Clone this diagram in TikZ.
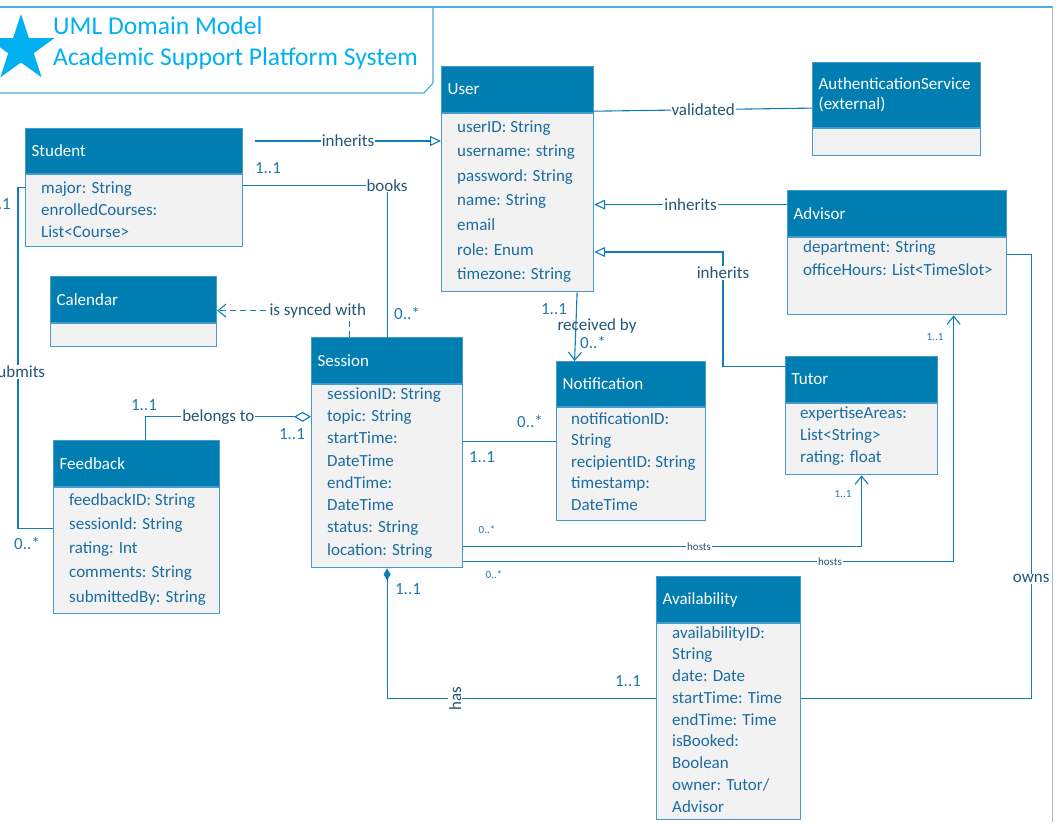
\documentclass[tikz,border=0pt]{standalone}
\usepackage{fontspec}
\setmainfont{Carlito}
\usetikzlibrary{arrows.meta,shapes.geometric}
\definecolor{titleblue}{RGB}{0,176,240}
\definecolor{framec}{RGB}{79,172,222}
\definecolor{clshead}{RGB}{0,126,178}
\definecolor{clsline}{RGB}{70,155,205}
\definecolor{bodyfill}{RGB}{242,242,242}
\definecolor{attrtext}{RGB}{27,108,160}
\definecolor{wirec}{RGB}{16,124,186}
\definecolor{lbltext}{RGB}{35,85,120}
\definecolor{multblue}{RGB}{30,120,180}
\tikzset{
  head/.style={draw=clsline, line width=1.2pt, fill=clshead, text=white, anchor=north west,
    inner xsep=6pt, inner ysep=0pt, align=left, font=\fontsize{17}{20}\selectfont},
  body/.style={draw=clsline, line width=1.2pt, fill=bodyfill, anchor=north west, inner sep=0pt},
  attr/.style={anchor=north west, inner sep=0pt, align=left, text=attrtext,
    font=\fontsize{17}{#1}\selectfont},
  wire/.style={draw=wirec, line width=1.1pt},
  gen/.style={wire, -{Triangle[open,length=11pt,width=10pt]}},
  nav/.style={wire, -{Straight Barb[length=8pt,width=13pt]}},
  agg/.style={wire, -{Diamond[open,length=17pt,width=10pt,fill=white]}},
  comp/.style={wire, -{Diamond[length=12pt,width=7pt]}},
  lbl/.style={fill=white, inner sep=1pt, text=lbltext, font=\fontsize{17}{20}\selectfont},
  mult/.style={inner sep=0pt, text=multblue, font=\fontsize{17}{20}\selectfont},
  small/.style={inner sep=1pt, text=lbltext, font=\fontsize{11}{13}\selectfont},
  smallmult/.style={inner sep=0pt, text=multblue, font=\fontsize{11}{13}\selectfont}
}
\begin{document}
\begin{tikzpicture}[x=1pt,y=-1pt]
\useasboundingbox (0,0) rectangle (1060,822);
% Marco
\draw[framec, line width=1.2pt] (0,7) -- (1053,7);
\draw[gray!55, line width=1pt] (1052,7) -- (1052,822);
\draw[framec, line width=1.2pt] (433,7) -- (433,83) -- (424,93) -- (0,93);
% Titulo
\node[star, star points=5, star point ratio=2.6, minimum size=70pt, inner sep=0pt, fill=titleblue] (logo) at (21,49) {};
\node[anchor=west, align=left, text=titleblue, font=\fontsize{25.6}{31}\selectfont, inner sep=0pt] (title) at (53,43) {UML Domain Model\\Academic Support Platform System};
% Student
\node[head, text width=205pt, minimum height=45pt] (student) at (25,128) {Student};
\node[body, minimum width=217pt, minimum height=72pt] (student-b) at (student.south west) {};
\node[attr=22] (student-a) at ([xshift=16pt,yshift=-7pt]student-b.north west) {major: String\\enrolledCourses:\\List<Course>};
% User
\node[head, text width=140pt, minimum height=46pt] (user) at (441,66) {User};
\node[body, minimum width=152pt, minimum height=178pt] (user-b) at (user.south west) {};
\node[attr=24.6] (user-a) at ([xshift=16pt,yshift=-7pt]user-b.north west) {userID: String\\username: string\\password: String\\name: String\\email\\role: Enum\\timezone: String};
% AuthenticationService
\node[head, text width=156pt, minimum height=65pt] (auth) at (812,62) {AuthenticationService\\(external)};
\node[body, minimum width=168pt, minimum height=27pt] (auth-b) at (auth.south west) {};
% Advisor
\node[head, text width=207pt, minimum height=46pt] (advisor) at (787,190) {Advisor};
\node[body, minimum width=219pt, minimum height=77pt] (advisor-b) at (advisor.south west) {};
\node[attr=23] (advisor-a) at ([xshift=16pt,yshift=-3pt]advisor-b.north west) {department: String\\officeHours: List<TimeSlot>};
% Calendar
\node[head, text width=154pt, minimum height=46pt] (calendar) at (50,276) {Calendar};
\node[body, minimum width=166pt, minimum height=23pt] (calendar-b) at (calendar.south west) {};
% Session
\node[head, text width=139pt, minimum height=46pt] (session) at (311,337) {Session};
\node[body, minimum width=151pt, minimum height=183pt] (session-b) at (session.south west) {};
\node[attr=22.3] (session-a) at ([xshift=16pt,yshift=-3pt]session-b.north west) {sessionID: String\\topic: String\\startTime:\\DateTime\\endTime:\\DateTime\\status: String\\location: String};
% Feedback
\node[head, text width=154pt, minimum height=46pt] (feedback) at (53,440) {Feedback};
\node[body, minimum width=166pt, minimum height=126pt] (feedback-b) at (feedback.south west) {};
\node[attr=24.25] (feedback-a) at ([xshift=16pt,yshift=-6pt]feedback-b.north west) {feedbackID: String\\sessionId: String\\rating: Int\\comments: String\\submittedBy: String};
% Notification
\node[head, text width=137pt, minimum height=45pt] (notif) at (556,361) {Notification};
\node[body, minimum width=149pt, minimum height=113pt] (notif-b) at (notif.south west) {};
\node[attr=21.5] (notif-a) at ([xshift=15pt,yshift=-5pt]notif-b.north west) {notificationID:\\String\\recipientID: String\\timestamp:\\DateTime};
% Tutor
\node[head, text width=140pt, minimum height=46pt] (tutor) at (785,356) {Tutor};
\node[body, minimum width=152pt, minimum height=71pt] (tutor-b) at (tutor.south west) {};
\node[attr=22] (tutor-a) at ([xshift=15pt,yshift=-3pt]tutor-b.north west) {expertiseAreas:\\List<String>\\rating: float};
% Availability
\node[head, text width=132pt, minimum height=46pt] (avail) at (656,576) {Availability};
\node[body, minimum width=144pt, minimum height=196pt] (avail-b) at (avail.south west) {};
\node[attr=21.75] (avail-a) at ([xshift=16pt,yshift=-3pt]avail-b.north west) {availabilityID:\\String\\date: Date\\startTime: Time\\endTime: Time\\isBooked:\\Boolean\\owner: Tutor/\\Advisor};
% Herencia
\coordinate (inh-s) at (255,141);
\draw[gen] (inh-s) -- (inh-s -| user-b.west) node[lbl, midway] (l-inh1) {inherits};
\draw[gen] ([yshift=9pt]advisor.west) -- ([yshift=9pt]advisor.west -| user-b.east) node[lbl, midway] (l-inh2) {inherits};
\coordinate (inh-t) at (723,252);
\draw[gen] ([yshift=13pt]tutor.west) -| (inh-t) node[lbl, pos=0.91] (l-inh3) {inherits} -- (inh-t -| user-b.east);
% Asociaciones
\draw[wire] ([yshift=2pt]user.south east) -- ([yshift=-13pt]auth.west) node[lbl, midway] (l-val) {validated};
\draw[wire] ([yshift=-11pt]student-b.north east) -| (session.north) node[lbl, pos=0.5] (l-books) {books};
\node[mult] (m-books1) at (268,168) {1..1};
\node[mult] (m-books2) at (407,314) {0..*};
\draw[nav] ([xshift=59.5pt]user-b.south) -- ([xshift=-56.5pt]notif.north);
\node[mult] (m-recv1) at (554,309) {1..1};
\node[lbl, fill=none, inner sep=0pt] (l-recv) at (597,326) {received by};
\node[mult] (m-recv2) at (593,343) {0..*};
\draw[nav, dash pattern=on 6pt off 4pt] ([xshift=-37.5pt]session.north) |- ([yshift=-11pt]calendar.east) node[lbl, pos=0.62] (l-sync) {is synced with};
\draw[agg] ([xshift=9pt]feedback.north) |- ([yshift=59.5pt]session-b.west) node[lbl, pos=0.72] (l-belongs) {belongs to};
\node[mult] (m-bel1) at (144,405) {1..1};
\node[mult] (m-bel2) at (292,434) {1..1};
\draw[wire] ([yshift=23pt]student-b.west) -- ++(-7,0) |- ([yshift=22pt]feedback-b.west) node[lbl, pos=0.27] (l-sub) {submits};
\node[mult, anchor=east] (m-sub1) at (11,204) {1..1};
\node[mult] (m-sub2) at (27,544) {0..*};
\draw[wire] ([yshift=34.5pt]session-b.east) -- ([yshift=22.5pt]notif-b.west);
\node[mult] (m-not1) at (530,422) {0..*};
\node[mult] (m-not2) at (482,457) {1..1};
\draw[nav] ([yshift=-70.5pt]session-b.east) -| (tutor-b.south) node[small, fill=white, pos=0.296] (l-host1) {hosts};
\node[smallmult] (m-host1) at (487,530) {0..*};
\node[smallmult] (m-host2) at (843,494) {1..1};
\draw[nav] ([yshift=-85.5pt]session-b.east) -| ([xshift=56.5pt]advisor-b.south) node[small, fill=white, pos=0.374] (l-host2) {hosts};
\node[smallmult] (m-host3) at (494,575) {0..*};
\node[smallmult] (m-host4) at (935,337) {1..1};
\draw[comp] ([yshift=23pt]avail-b.west) -| (session-b.south) node[lbl, rotate=90, pos=0.373] (l-has) {has};
\node[mult] (m-has1) at (408,589) {1..1};
\node[mult] (m-has2) at (628,681) {1..1};
\draw[wire] ([yshift=21.5pt]advisor-b.east) -- ++(24,0) |- ([yshift=23pt]avail-b.east) node[lbl, pos=0.365] (l-owns) {owns};
\end{tikzpicture}
\end{document}
